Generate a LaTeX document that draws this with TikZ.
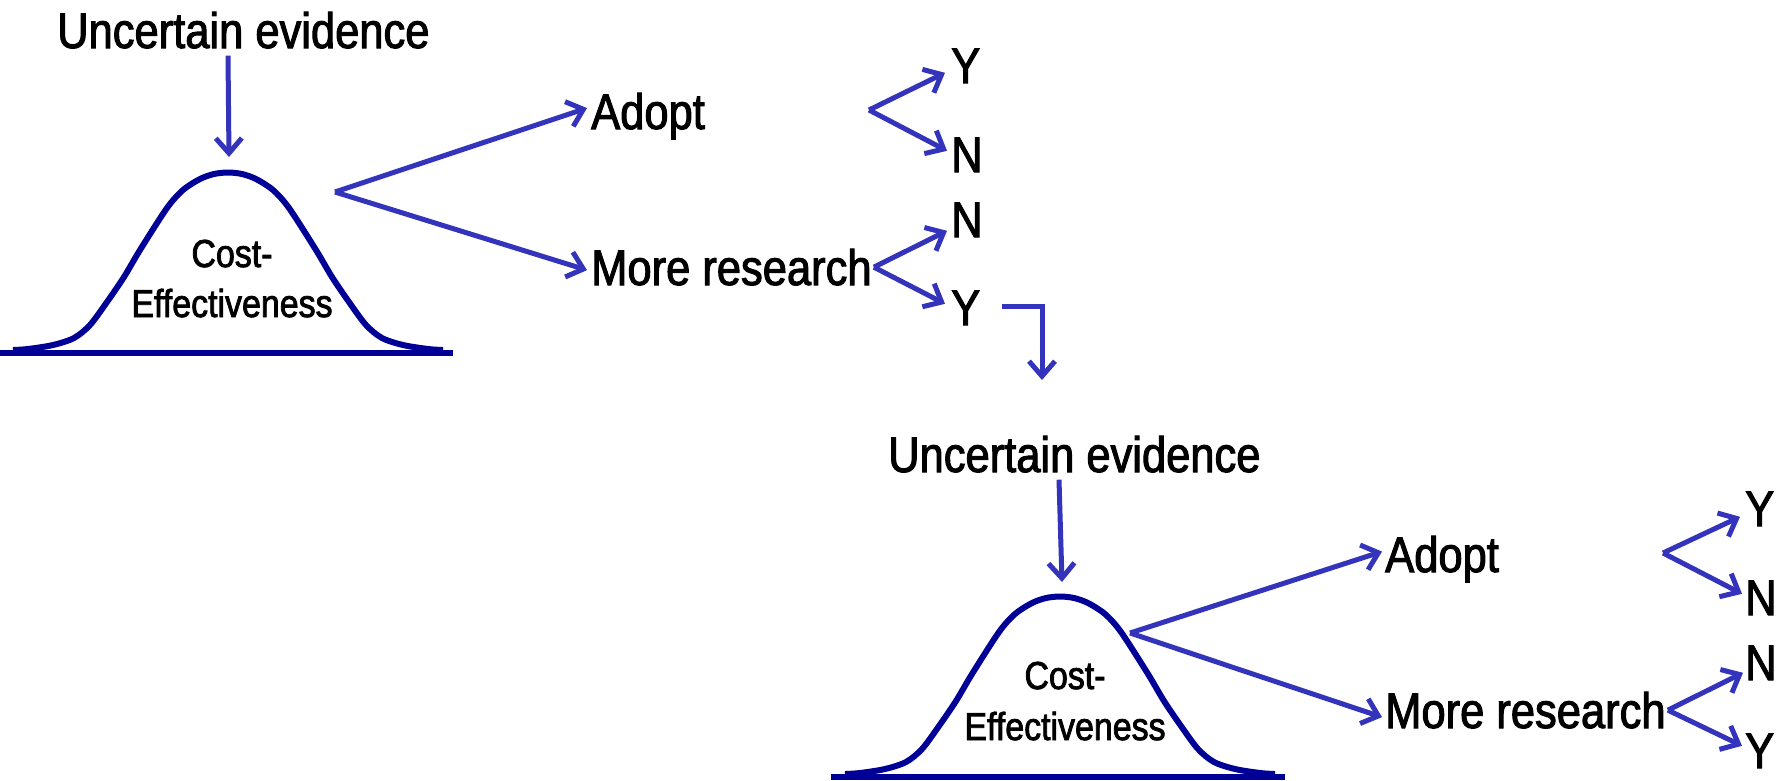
\documentclass[tikz,border=0pt]{standalone}
\usepackage{fontspec}
\setmainfont{Liberation Sans}[FakeStretch=0.87,FakeBold=2]
\usetikzlibrary{arrows.meta,calc}
\definecolor{arrowblue}{RGB}{51,51,187}
\definecolor{bellnavy}{RGB}{0,0,150}
\tikzset{
  arr/.style={draw=arrowblue, line width=5pt, -{Straight Barb[length=15pt,width=26pt,line width=5pt]}},
  bellcurve/.style={draw=bellnavy, line width=6pt},
  bellbase/.style={draw=bellnavy, line width=6pt},
  bigtxt/.style={inner sep=0pt, font=\fontsize{50}{60}\selectfont},
  smalltxt/.style={inner sep=0pt, font=\fontsize{39}{50}\selectfont},
  bellshape/.style={bellcurve, smooth},
}
% bell profile: #1 = peak x, #2 = base y
\newcommand{\bellpath}[2]{%
  \draw[bellshape] plot coordinates {
    (#1-215,#2) (#1-200,#2-1) (#1-175,#2-5) (#1-154,#2-12) (#1-138,#2-25)
    (#1-121,#2-48) (#1-104,#2-73) (#1-88,#2-100) (#1-61,#2-142)
    (#1-45,#2-160) (#1-28,#2-171) (#1-14,#2-176) (#1,#2-177.5)
    (#1+14,#2-176) (#1+28,#2-171) (#1+45,#2-160) (#1+61,#2-142)
    (#1+88,#2-100) (#1+104,#2-73) (#1+121,#2-48) (#1+138,#2-25)
    (#1+154,#2-12) (#1+175,#2-5) (#1+200,#2-1) (#1+215,#2)};}
\begin{document}
\begin{tikzpicture}[x=1pt,y=-1pt]
\useasboundingbox (0,0) rectangle (1785,780);

% ---------- upper group ----------
\node[bigtxt, anchor=base west] (ue1) at (57,48) {Uncertain evidence};
\coordinate (pk1) at (228,172);
\bellpath{228}{350}
\draw[bellbase] (0,353) -- (453,353);
\node[smalltxt, anchor=base] (ce1a) at (232,267) {Cost-};
\node[smalltxt, anchor=base] (ce1b) at (232,317) {Effectiveness};
\draw[arr] ($(ue1.south -| pk1)+(0,7)$) -- ($(pk1)+(1,-15)$);

\node[bigtxt, anchor=base west] (ad1) at (591,129) {Adopt};
\node[bigtxt, anchor=base west] (mr1) at (591,285) {More research};
\coordinate (f1) at (335,192);
\draw[arr] (f1) -- ($(ad1.west)+(-4,-8)$);
\draw[arr] (f1) -- ($(mr1.west)+(-4,3)$);

\node[bigtxt, anchor=base west] (y1a) at (951,83) {Y};
\node[bigtxt, anchor=base west] (n1a) at (951,172) {N};
\node[bigtxt, anchor=base west] (n1b) at (951,237) {N};
\node[bigtxt, anchor=base west] (y1b) at (951,325) {Y};
\coordinate (af1) at (869,110);
\coordinate (rf1) at ($(mr1.east)+(2,0)$);
\draw[arr] (af1) -- ($(y1a.west)+(-6,7)$);
\draw[arr] (af1) -- ($(n1a.west)+(-4,-4)$);
\draw[arr] (rf1) -- ($(n1b.west)+(-4,11)$);
\draw[arr] (rf1) -- ($(y1b.west)+(-6,-4)$);

% elbow to lower group
\coordinate (el2) at (1042,380);
\draw[arr] ($(y1b.east)+(22,-1)$) -| (el2);

% ---------- lower group ----------
\node[bigtxt, anchor=base west] (ue2) at (888,472) {Uncertain evidence};
\coordinate (pk2) at (1060,596);
\bellpath{1060}{774}
\draw[bellbase] (831,777) -- (1285,777);
\node[smalltxt, anchor=base] (ce2a) at (1065,689) {Cost-};
\node[smalltxt, anchor=base] (ce2b) at (1065,740) {Effectiveness};
\draw[arr] ($(ue2.south -| pk2)+(-1,7)$) -- ($(pk2)+(2,-14)$);

\node[bigtxt, anchor=base west] (ad2) at (1385,572) {Adopt};
\node[bigtxt, anchor=base west] (mr2) at (1385,728) {More research};
\coordinate (f2) at (1130,633);
\draw[arr] (f2) -- ($(ad2.west)+(-3,-7.5)$);
\draw[arr] (f2) -- ($(mr2.west)+(-3,7)$);

\node[bigtxt, anchor=base west] (y2a) at (1745,526) {Y};
\node[bigtxt, anchor=base west] (n2a) at (1745,615) {N};
\node[bigtxt, anchor=base west] (n2b) at (1745,680) {N};
\node[bigtxt, anchor=base west] (y2b) at (1745,768) {Y};
\coordinate (af2) at (1663,553);
\coordinate (rf2) at ($(mr2.east)+(2,0)$);
\draw[arr] (af2) -- ($(y2a.west)+(-5,8)$);
\draw[arr] (af2) -- ($(n2a.west)+(-3,-4)$);
\draw[arr] (rf2) -- ($(n2b.west)+(-2,10)$);
\draw[arr] (rf2) -- ($(y2b.west)+(-3,-5)$);
\end{tikzpicture}
\end{document}
